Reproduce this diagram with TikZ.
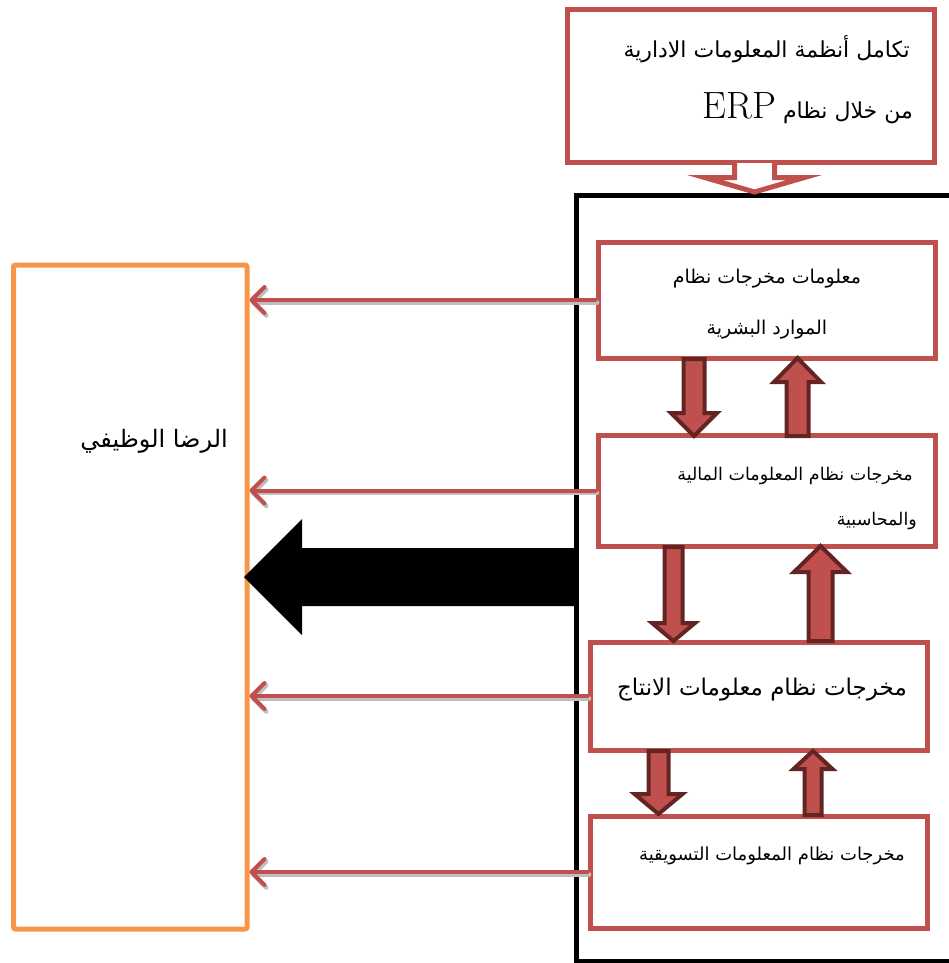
\documentclass[tikz,border=0pt]{standalone}
\usepackage{fontspec}
\usetikzlibrary{arrows.meta}
\TeXXeTstate=1
\newfontfamily\arabicfont[Script=Arabic]{DejaVu Sans}
\newfontfamily\erpfont{Latin Modern Roman}
\definecolor{boxred}{HTML}{C0504D}
\definecolor{darkred}{HTML}{632523}
\definecolor{satorange}{HTML}{F79646}

% vertical block arrow: x centre, tail y, head-base y, tip y, half shaft, half head
\newcommand\vblock[6]{%
  \draw[blockarrow] (#1-#5,#2) -- (#1-#5,#3) -- (#1-#6,#3) -- (#1,#4)
    -- (#1+#6,#3) -- (#1+#5,#3) -- (#1+#5,#2) -- cycle;}

% output arrow with a soft grey shadow underneath
\newcommand\outarrow[2]{%
  \draw[thinshadow] (#1.west) -- (#2.east |- #1.west);
  \draw[thinarrow] (#1.west) -- (#2.east |- #1.west);}

\begin{document}
\begin{tikzpicture}[x=1pt,y=-1pt,
  redbox/.style={draw=boxred, line width=5pt, fill=white, inner sep=0pt},
  satbox/.style={draw=satorange, line width=5pt, rounded corners=2pt, inner sep=0pt},
  frameline/.style={draw=black, line width=5pt},
  blockarrow/.style={draw=darkred, fill=boxred, line width=4pt, line join=miter},
  hollowarrow/.style={draw=boxred, fill=white, line width=5pt, line join=miter},
  barb/.style={-{Straight Barb[length=13pt,width=26pt,line cap=round,line join=round]}},
  thinarrow/.style={draw=boxred, line width=4pt, line cap=round, barb},
  thinshadow/.style={draw=black!25, line width=4.5pt, line cap=round, barb,
    transform canvas={shift={(1.5pt,-2.5pt)}}},
  txt/.style={inner sep=0pt}]
\useasboundingbox (0,0) rectangle (949,963);

% outer black frame, open to the right
\draw[frameline] (960,195) -- (576.5,195) -- (576.5,961) -- (960,961);

% boxes
\node[redbox, minimum width=367pt, minimum height=152pt] (erp) at (750.5,86) {};
\node[redbox, minimum width=337pt, minimum height=116pt] (hr) at (766.5,300) {};
\node[redbox, minimum width=337pt, minimum height=111pt] (fin) at (766.5,490.5) {};
\node[redbox, minimum width=337pt, minimum height=108pt] (prod) at (758.5,696) {};
\node[redbox, minimum width=337pt, minimum height=112pt] (mkt) at (758.5,872) {};
\node[satbox, minimum width=233.5pt, minimum height=664pt] (sat) at (130.25,597) {};

% texts
\node[txt, anchor=base east, font=\arabicfont\fontsize{22}{22}\selectfont] (erpA) at (910,58)
  {\beginR تكامل أنظمة المعلومات الادارية\endR};
\node[txt, anchor=base east, font=\arabicfont\fontsize{22}{22}\selectfont] (erpB) at (913,118)
  {\beginR من خلال نظام \beginL{\erpfont\fontsize{38}{38}\selectfont ERP}\endL\endR};
\node[txt, anchor=base, font=\arabicfont\fontsize{19}{19}\selectfont] (hrA) at (767,283)
  {\beginR معلومات مخرجات نظام\endR};
\node[txt, anchor=base, font=\arabicfont\fontsize{19}{19}\selectfont] (hrB) at (767,334)
  {\beginR الموارد البشرية\endR};
\node[txt, anchor=base east, font=\arabicfont\fontsize{17.5}{17.5}\selectfont] (finA) at (913,480)
  {\beginR مخرجات نظام المعلومات المالية\endR};
\node[txt, anchor=base east, font=\arabicfont\fontsize{17.5}{17.5}\selectfont] (finB) at (917,525)
  {\beginR والمحاسبية\endR};
\node[txt, anchor=base east, font=\arabicfont\fontsize{23}{23}\selectfont] (prodA) at (907,695)
  {\beginR مخرجات نظام معلومات الانتاج\endR};
\node[txt, anchor=base east, font=\arabicfont\fontsize{18}{18}\selectfont] (mktA) at (905,860)
  {\beginR مخرجات نظام المعلومات التسويقية\endR};
\node[txt, anchor=base east, font=\arabicfont\fontsize{24}{24}\selectfont] (satA) at (228,447)
  {\beginR الرضا الوظيفي\endR};

% hollow arrow from the ERP box into the frame
\draw[hollowarrow] (734.5,163) -- (734.5,177.5) -- (704.5,177.5) -- (754.5,192)
  -- (804.5,177.5) -- (774.5,177.5) -- (774.5,163);

% block arrows between the subsystem boxes
\vblock{694}{359}{413}{436}{10.5}{23}
\vblock{797.5}{436}{382}{358}{11}{23.5}
\vblock{673.5}{547}{623}{641}{9}{21.5}
\vblock{820.5}{641}{572}{546}{12}{26.5}
\vblock{658.5}{751}{794}{814}{10}{24}
\vblock{813}{815}{769}{751}{8.5}{19.5}

% outputs towards job satisfaction
\outarrow{hr}{sat}
\outarrow{fin}{sat}
\outarrow{prod}{sat}
\outarrow{mkt}{sat}

% large black arrow from the frame
\fill[black] (578.5,548) -- (302,548) -- (302,519) -- (244,577) -- (302,635)
  -- (302,606) -- (578.5,606) -- cycle;
\end{tikzpicture}
\end{document}
